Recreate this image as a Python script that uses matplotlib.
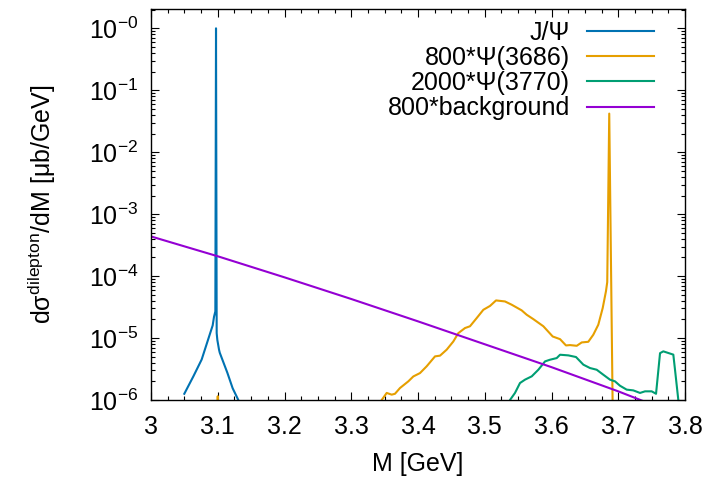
import numpy as np
import matplotlib
matplotlib.use("Agg")
import matplotlib.pyplot as plt
from matplotlib.ticker import FixedLocator, LogLocator, MultipleLocator, NullFormatter

plt.rcParams['font.family'] = ['Liberation Sans', 'DejaVu Sans']
plt.rcParams['mathtext.fontset'] = 'custom'
plt.rcParams['mathtext.rm'] = 'Liberation Sans'
plt.rcParams['mathtext.it'] = 'Liberation Sans:italic'
plt.rcParams['mathtext.bf'] = 'Liberation Sans:bold'

# J/Psi peak
m_jpsi = [3.0499, 3.0634, 3.0759, 3.0924, 3.0944, 3.0964, 3.0974, 3.0984, 3.0994,
          3.1019, 3.1030, 3.1144, 3.1223, 3.1308, 3.1330]
y_jpsi = [1.26e-6, 2.4e-6, 4.5e-6, 1.6e-5, 2.2e-5, 2.7e-5, 1.0, 1.2e-5, 9.3e-6,
          6.5e-6, 5.8e-6, 2.75e-6, 1.55e-6, 1.0e-6, 8.0e-7]

# 800*Psi(3686)
m_psi2s = [3.0995, 3.1000, 3.1005, 3.2000, 3.3400, 3.3456, 3.3531, 3.3606, 3.3655,
           3.3730, 3.3855, 3.3930, 3.4030, 3.4130, 3.4255, 3.4330, 3.4430, 3.4529,
           3.4604, 3.4704, 3.4779, 3.4879, 3.4979, 3.5079, 3.5169, 3.5303, 3.5404,
           3.5553, 3.5628, 3.5728, 3.5878, 3.6018, 3.6128, 3.6217, 3.6277, 3.6378,
           3.6453, 3.6551, 3.6626, 3.6701, 3.6767, 3.6816, 3.6835, 3.6865, 3.6915,
           3.6930]
y_psi2s = [5e-7, 1.15e-6, 5e-7, 1e-8, 8e-7, 1.0e-6, 1.30e-6, 1.22e-6, 1.26e-6,
           1.56e-6, 2.0e-6, 2.4e-6, 2.72e-6, 3.5e-6, 5.06e-6, 5.2e-6, 6.5e-6, 8.8e-6,
           1.2e-5, 1.45e-5, 1.55e-5, 2.1e-5, 2.86e-5, 3.3e-5, 4.05e-5, 3.9e-5, 3.45e-5,
           2.8e-5, 2.38e-5, 2.02e-5, 1.55e-5, 1.06e-5, 9.6e-6, 7.6e-6, 7.7e-6, 7.5e-6,
           8.5e-6, 8.7e-6, 1.13e-5, 1.64e-5, 3.05e-5, 5.7e-5, 8e-5, 4.2e-2, 1.0e-6,
           5e-7]

# 2000*Psi(3770)
m_psi3770 = [3.5350, 3.5378, 3.5453, 3.5528, 3.5603, 3.5704, 3.5803, 3.5903, 3.5978,
             3.6078, 3.6128, 3.6253, 3.6367, 3.6477, 3.6577, 3.6677, 3.6776, 3.6876,
             3.6951, 3.7026, 3.7126, 3.7225, 3.7326, 3.7401, 3.7501, 3.7566, 3.7626,
             3.7675, 3.7825, 3.7850, 3.7900, 3.7920]
y_psi3770 = [8e-7, 1.0e-6, 1.30e-6, 1.88e-6, 2.13e-6, 2.41e-6, 3.08e-6, 4.2e-6, 4.47e-6,
             4.75e-6, 5.38e-6, 5.25e-6, 4.94e-6, 3.72e-6, 3.28e-6, 3.08e-6, 2.56e-6, 2.13e-6,
             2.0e-6, 1.70e-6, 1.47e-6, 1.43e-6, 1.30e-6, 1.38e-6, 1.38e-6, 1.26e-6, 5.7e-6,
             6.1e-6, 5.4e-6, 3.1e-6, 1.0e-6, 5e-7]

# 800*background
m_bg = [3.0, 3.1, 3.2, 3.3, 3.4, 3.5, 3.6, 3.7, 3.75]
y_bg = [4.37e-4, 2.09e-4, 9.55e-5, 4.27e-5, 1.86e-5, 7.94e-6, 3.39e-6, 1.38e-6, 8.5e-7]

labels = ['J/Ψ', '800*Ψ(3686)', '2000*Ψ(3770)', '800*background']
colors = ['#0072b2', '#e69f00', '#009e73', '#9400d3']
xticks = [3.0, 3.1, 3.2, 3.3, 3.4, 3.5, 3.6, 3.7, 3.8]
xticklabels = ['3', '3.1', '3.2', '3.3', '3.4', '3.5', '3.6', '3.7', '3.8']
yticks = [1e-6, 1e-5, 1e-4, 1e-3, 1e-2, 1e-1, 1.0]
yticklabels = [r'$10^{-6}$', r'$10^{-5}$', r'$10^{-4}$', r'$10^{-3}$',
               r'$10^{-2}$', r'$10^{-1}$', r'$10^{-0}$']

fs = 18

fig = plt.figure(figsize=(7.11, 4.83), dpi=100)
ax = fig.add_axes([151/711, 1 - 400/483, 534/711, 391/483])

series = [(m_jpsi, y_jpsi), (m_psi2s, y_psi2s), (m_psi3770, y_psi3770), (m_bg, y_bg)]
for (m, y), lab, c in zip(series, labels, colors):
    ax.plot(m, y, color=c, lw=1.5, label=lab)

ax.set_yscale('log')
ax.set_xlim(3.0, 3.8)
ax.set_ylim(1e-6, 2.05)

ax.set_xticks(xticks)
ax.set_xticklabels(xticklabels)
ax.xaxis.set_minor_locator(MultipleLocator(0.025))

ax.yaxis.set_major_locator(FixedLocator(yticks))
ax.set_yticklabels(yticklabels)
ax.yaxis.set_minor_locator(LogLocator(base=10, subs=np.arange(2, 10), numticks=20))
ax.yaxis.set_minor_formatter(NullFormatter())

ax.tick_params(which='both', direction='in', top=True, right=True, labelsize=fs, width=0.8)
ax.tick_params(which='major', length=6)
ax.tick_params(which='minor', length=3)
ax.tick_params(axis='x', pad=11)
ax.tick_params(axis='y', pad=9)
for s in ax.spines.values():
    s.set_linewidth(1.0)

ax.set_xlabel('M [GeV]', fontsize=fs, labelpad=9)
ax.set_ylabel(r'd$\mathrm{\sigma^{dilepton}}$/dM [μb/GeV]', fontsize=fs, labelpad=22)

ax.legend(loc='upper right', bbox_to_anchor=(0.942, 0.970), markerfirst=False,
          frameon=False, fontsize=fs, handlelength=2.7, handletextpad=0.67,
          labelspacing=0.05, borderpad=0, borderaxespad=0)

fig.savefig('out.png', dpi=100)
